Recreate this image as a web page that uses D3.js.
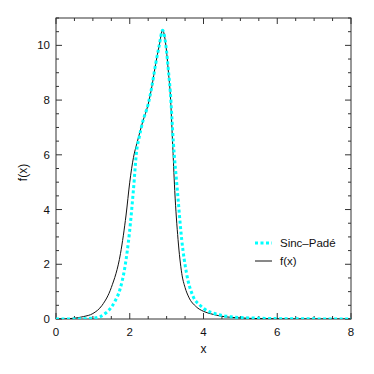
<!DOCTYPE html>
<html>
<head>
<meta charset="utf-8">
<script src="https://cdn.jsdelivr.net/npm/d3@7"></script>
<style>
html,body{margin:0;padding:0;background:#fff;}
svg{display:block;}
text{font-family:"Liberation Sans",Arial,Helvetica,sans-serif;fill:#111;}
</style>
</head>
<body>
<svg id="chart" width="374" height="374"></svg>
<script>
// f(x) exact
const fX = [0,0.25,0.5,0.75,1.0,1.25,1.5,1.75,1.9,2.0,2.1,2.2,2.35,2.5,2.6,2.7,2.8,2.89,2.98,3.05,3.1,3.16,3.22,3.31,3.41,3.5,3.6,3.8,4.0,4.2,4.5,5.0,5.5,6.0,7.0,8.0];
const fY = [0,0.005,0.03,0.09,0.2,0.5,1.15,2.4,3.8,5.0,5.9,6.45,7.2,7.85,8.5,9.3,10.0,10.55,10.0,9.0,8.2,6.5,4.7,2.9,1.67,1.15,0.8,0.45,0.28,0.19,0.1,0.04,0.015,0.006,0.002,0.001];
// Sinc-Padé approximation
const sX = [0,0.5,0.75,1.0,1.2,1.35,1.5,1.6,1.73,1.87,1.99,2.1,2.19,2.25,2.35,2.5,2.6,2.7,2.8,2.89,2.98,3.05,3.1,3.18,3.29,3.41,3.54,3.72,3.9,4.0,4.35,4.75,5.25,5.7,6.5,7.0,8.0];
const sY = [0,0.002,0.01,0.03,0.09,0.22,0.43,0.65,1.06,1.91,3.13,4.72,6.18,6.6,7.2,7.85,8.5,9.3,10.0,10.55,10.0,9.05,8.3,6.5,4.72,2.89,1.67,0.82,0.51,0.39,0.18,0.08,0.04,0.02,0.008,0.005,0.002];
const xMajor = [0,2,4,6,8];
const yMajor = [0,2,4,6,8,10];
const legendLabels = ["Sinc\u2013Padé","f(x)"];

const svg = d3.select("#chart");
const L = 56, R = 351, T = 18, B = 319;
const x = d3.scaleLinear().domain([0,8]).range([L,R]);
const y = d3.scaleLinear().domain([0,11]).range([B,T]);

const axisColor = "#333";
const g = svg.append("g");

// minor ticks
const xMinor = d3.range(0, 8.01, 0.5);
const yMinor = d3.range(0, 11.01, 0.5);
function tickLines(vals, isX, len){
  vals.forEach(v=>{
    if(isX){
      const px = x(v);
      g.append("line").attr("x1",px).attr("x2",px).attr("y1",B).attr("y2",B-len).attr("stroke",axisColor).attr("stroke-width",1);
      g.append("line").attr("x1",px).attr("x2",px).attr("y1",T).attr("y2",T+len).attr("stroke",axisColor).attr("stroke-width",1);
    } else {
      const py = y(v);
      g.append("line").attr("x1",L).attr("x2",L+len).attr("y1",py).attr("y2",py).attr("stroke",axisColor).attr("stroke-width",1);
      g.append("line").attr("x1",R).attr("x2",R-len).attr("y1",py).attr("y2",py).attr("stroke",axisColor).attr("stroke-width",1);
    }
  });
}
tickLines(xMinor.filter(v=>!xMajor.includes(v)), true, 3);
tickLines(yMinor.filter(v=>!yMajor.includes(v)), false, 3);
tickLines(xMajor, true, 6);
tickLines(yMajor, false, 6);

// frame
g.append("rect").attr("x",L).attr("y",T).attr("width",R-L).attr("height",B-T)
  .attr("fill","none").attr("stroke",axisColor).attr("stroke-width",1);

// tick labels
xMajor.forEach(v=>{
  g.append("text").attr("x",x(v)).attr("y",B+17).attr("text-anchor","middle")
    .attr("font-size",11.5).text(v);
});
yMajor.forEach(v=>{
  g.append("text").attr("x",L-6).attr("y",y(v)+4).attr("text-anchor","end")
    .attr("font-size",11.5).text(v);
});
// axis titles
g.append("text").attr("x",(L+R)/2).attr("y",353).attr("text-anchor","middle").attr("font-size",12).text("x");
g.append("text").attr("transform",`translate(27,${(T+B)/2+4}) rotate(-90)`).attr("text-anchor","middle").attr("font-size",12).text("f(x)");

// curves
const line = d3.line().x(d=>x(d[0])).y(d=>y(d[1])).curve(d3.curveMonotoneX);
const clip = svg.append("clipPath").attr("id","clip").append("rect").attr("x",L).attr("y",T).attr("width",R-L).attr("height",B-T);
svg.append("path").datum(fX.map((v,i)=>[v,fY[i]])).attr("d",line)
  .attr("fill","none").attr("stroke","#111").attr("stroke-width",1).attr("clip-path","url(#clip)");
svg.append("path").datum(sX.map((v,i)=>[v,sY[i]])).attr("d",line)
  .attr("fill","none").attr("stroke","#00ffff").attr("stroke-width",3).attr("stroke-dasharray","3,2.5").attr("clip-path","url(#clip)");

// legend
const lg = svg.append("g");
lg.append("line").attr("x1",255).attr("x2",272).attr("y1",243).attr("y2",243)
  .attr("stroke","#00ffff").attr("stroke-width",3).attr("stroke-dasharray","3,2.5");
lg.append("text").attr("x",280).attr("y",247).attr("font-size",11.5).text(legendLabels[0]);
lg.append("line").attr("x1",255).attr("x2",272).attr("y1",261).attr("y2",261)
  .attr("stroke","#111").attr("stroke-width",1);
lg.append("text").attr("x",280).attr("y",265).attr("font-size",11.5).text(legendLabels[1]);
</script>
</body>
</html>
